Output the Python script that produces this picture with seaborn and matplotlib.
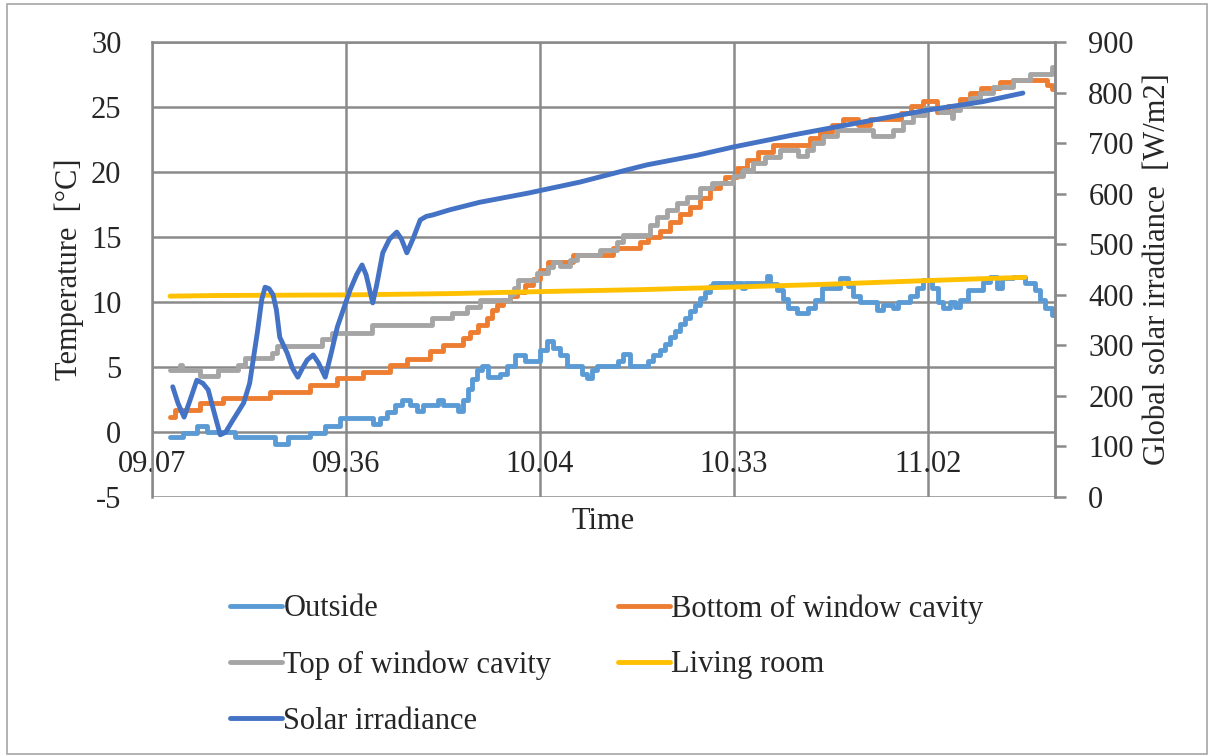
import matplotlib
matplotlib.use("Agg")
import matplotlib.pyplot as plt
from matplotlib.patches import Rectangle
import pandas as pd
import seaborn as sns

# ---------------------------------------------------------------- data
# elapsed minutes after 09:07
tick_minutes = [0, 29, 58, 87, 116]
tick_labels = ["09.07", "09.36", "10.04", "10.33", "11.02"]
x_end = 135.0

# step series: time of each change (min) and the temperature (°C) held from it
outside_t = [2.7, 4.6, 6.7, 8.2, 12.4, 18.4, 20.3, 23.6, 25.9, 28.1, 33.0, 34.1,
             35.1, 36.3, 37.4, 38.6, 39.6, 40.5, 42.8, 43.5, 45.7, 46.5, 47.2,
             47.8, 48.6, 49.3, 50.2, 52.0, 53.1, 54.3, 55.8, 58.0, 59.0, 59.9,
             61.0, 62.0, 64.3, 65.0, 65.8, 66.5, 69.7, 70.4, 71.5, 74.1, 74.9,
             75.9, 76.7, 77.4, 78.2, 78.9, 79.7, 80.4, 81.2, 81.9, 82.7, 83.4,
             83.9, 88.2, 88.6, 92.0, 92.4, 93.4, 94.3, 95.1, 96.4, 98.1, 99.1,
             100.2, 102.8, 104.0, 104.8, 105.8, 108.4, 109.3, 110.8, 111.5,
             113.3, 114.4, 115.3, 116.6, 117.5, 118.2, 119.3, 120.0, 120.8,
             122.0, 124.2, 125.3, 126.3, 127.1, 128.7, 130.5, 132.0, 132.7,
             133.5, 134.5, 135.0]
outside_v = [-0.4, -0.1, 0.5, 0.0, -0.4, -0.9, -0.4, -0.1, 0.5, 1.05, 0.6, 1.05,
             1.55, 2.1, 2.5, 2.1, 1.6, 2.1, 2.5, 2.1, 1.6, 2.5, 3.3,
             4.1, 4.8, 5.1, 4.2, 4.5, 5.1, 5.9, 5.5, 6.3, 7.0, 6.5,
             5.9, 5.1, 4.5, 4.15, 4.8, 5.1, 5.5, 6.0, 5.1, 5.5, 5.9,
             6.3, 6.8, 7.3, 7.8, 8.3, 8.8, 9.3, 9.8, 10.3, 10.8, 11.2,
             11.5, 11.1, 11.5, 12.0, 11.4, 10.9, 10.2, 9.55, 9.15, 9.55, 10.15,
             11.1, 11.85, 11.2, 10.5, 10.0, 9.4, 9.8, 9.55, 10.0,
             10.5, 11.1, 11.7, 11.1, 10.0, 9.55, 10.0, 9.6, 10.15,
             10.9, 11.55, 11.9, 11.1, 11.85, 11.9, 11.45, 10.9, 10.15,
             9.55, 9.0, 9.0]

bottom_t = [2.7, 3.4, 7.2, 10.6, 17.6, 23.6, 27.7, 31.5, 35.6, 38.1, 41.6, 43.5,
            46.5, 47.5, 48.7, 50.1, 50.8, 51.6, 52.5, 53.5, 54.6, 55.8, 57.0,
            58.0, 59.2, 62.9, 68.9, 72.9, 74.1, 75.9, 77.4, 78.9, 80.4, 81.9,
            83.4, 84.9, 85.7, 87.4, 88.9, 90.6, 92.8, 98.4, 99.9, 101.6, 103.3,
            105.5, 107.3, 112.0, 113.5, 115.3, 117.3, 119.0, 120.8, 122.3,
            124.0, 126.8, 128.7, 133.8, 134.6, 135.0]
bottom_v = [1.15, 1.7, 2.2, 2.6, 3.1, 3.6, 4.15, 4.6, 5.15, 5.65, 6.2, 6.7,
            7.2, 7.7, 8.2, 8.8, 9.4, 9.75, 10.15, 10.5, 10.8, 11.3, 11.8,
            12.45, 13.1, 13.6, 14.15, 14.6, 15.0, 15.5, 16.15, 16.8, 17.3, 18.0,
            18.75, 19.15, 19.6, 20.3, 20.9, 21.55, 22.1, 22.6, 23.1, 23.6, 24.05,
            23.6, 24.05, 24.55, 25.1, 25.5, 24.6, 25.05, 25.6, 26.1,
            26.5, 26.95, 27.1, 26.7, 26.4, 26.4]

top_t = [2.7, 4.2, 4.5, 7.2, 9.9, 12.9, 13.9, 17.9, 18.7, 25.4, 26.9, 32.9,
         41.9, 44.8, 47.1, 49.0, 53.5, 54.1, 54.7, 57.6, 59.2, 59.9, 61.0,
         62.5, 63.5, 67.0, 69.5, 70.4, 74.4, 75.5, 77.0, 78.5, 80.0, 81.9,
         83.7, 86.8, 88.3, 89.8, 91.6, 93.9, 96.6, 97.9, 98.8, 100.3, 102.4,
         107.8, 110.8, 112.3, 113.8, 115.5, 117.8, 119.6, 119.8, 120.8, 122.3,
         123.8, 125.7, 128.7, 131.2, 134.5, 135.0]
top_v = [4.75, 5.15, 4.75, 4.3, 4.75, 5.15, 5.7, 6.1, 6.6, 7.15, 7.6, 8.2,
         8.75, 9.15, 9.6, 10.15, 10.6, 11.1, 11.7, 12.2, 12.7, 13.1, 12.8,
         13.2, 13.6, 14.0, 14.6, 15.15, 15.9, 16.55, 17.1, 17.6, 18.1, 18.75,
         19.15, 19.7, 20.15, 20.7, 21.15, 21.7, 21.2, 21.7, 22.2, 22.75, 23.25,
         22.75, 23.2, 23.85, 24.4, 24.9, 24.6, 24.15, 24.75, 25.15, 25.7,
         26.1, 26.55, 27.1, 27.55, 28.1, 28.1]

living_t = [2.7, 10.0, 30.0, 45.0, 58.0, 73.0, 87.0, 100.0, 116.0, 130.5]
living_v = [10.45, 10.5, 10.55, 10.65, 10.8, 10.95, 11.15, 11.35, 11.65, 11.9]

# global solar irradiance (W/m2)
solar_t = [3.1, 3.9, 4.8, 5.7, 6.7, 7.6, 8.4, 9.4, 10.2, 11.0, 12.0, 13.7,
           14.6, 15.8, 16.4, 16.9, 17.5, 18.1, 18.6, 19.1, 20.2, 21.0, 21.8,
           22.5, 23.2, 24.1, 24.9, 25.9, 26.8, 27.7, 29.6, 30.6, 31.4, 32.0,
           33.0, 33.6, 34.5, 35.5, 36.6, 37.3, 38.1, 39.0, 40.1, 41.0, 42.0,
           44.5, 49.0, 56.2, 64.0, 71.0, 74.0, 81.5, 86.8, 92.8, 95.8, 104.3,
           115.8, 124.2, 130.2]
solar_v = [218, 185, 158, 192, 231, 225, 212, 162, 123, 128, 150, 186,
           225, 330, 390, 415, 412, 400, 370, 316, 285, 255, 237,
           255, 271, 281, 265, 237, 285, 336, 409, 440, 459, 440,
           384, 420, 483, 510, 524, 510, 483, 510, 548, 555, 558,
           568, 583, 601, 623, 647, 657, 676, 692, 708, 716, 737,
           765, 782, 799]

series = [
    ("Outside", outside_t, outside_v, "#5B9BD5", "steps-post"),
    ("Bottom of window cavity", bottom_t, bottom_v, "#ED7D31", "steps-post"),
    ("Top of window cavity", top_t, top_v, "#A5A5A5", "steps-post"),
    ("Living room", living_t, living_v, "#FFC000", "default"),
]

# ---------------------------------------------------------------- style
sns.set_style("white")
plt.rcParams["font.family"] = ["Liberation Serif", "DejaVu Serif"]
plt.rcParams["font.size"] = 22
plt.rcParams["axes.unicode_minus"] = False
grid_c = "#8A8A8A"
lw = 3.5

W, H = 1211, 756
fig = plt.figure(figsize=(W / 100, H / 100), dpi=100)
ax = fig.add_axes([152 / W, 1 - 497 / H, 903 / W, 455 / H])
ax2 = ax.twinx()

for name, t, v, c, ds in series:
    df = pd.DataFrame({"t": t, "v": v})
    sns.lineplot(data=df, x="t", y="v", ax=ax, color=c, lw=lw, label=name,
                 drawstyle=ds, estimator=None, sort=False,
                 solid_joinstyle="round", solid_capstyle="round")

sdf = pd.DataFrame({"t": solar_t, "v": solar_v})
sns.lineplot(data=sdf, x="t", y="v", ax=ax2, color="#4472C4", lw=lw,
             label="Solar irradiance", estimator=None, sort=False,
             solid_joinstyle="round", solid_capstyle="round")

# ---------------------------------------------------------------- axes
ax.set_xlim(0, x_end)
ax.set_ylim(-5, 30)
ax.set_yticks(range(-5, 31, 5))
ax.set_xticks(tick_minutes)
ax.set_xticklabels(tick_labels)
ax2.set_ylim(0, 900)
ax2.set_yticks(range(0, 901, 100))

ax.grid(True, color=grid_c, lw=1.8)
ax.set_axisbelow(True)
for s in ax.spines.values():
    s.set_color(grid_c)
    s.set_linewidth(1.8)
ax.spines["bottom"].set_position(("data", 0))
ax.spines["bottom"].set_visible(False)
ax.tick_params(axis="x", length=0, pad=13, labelsize=22)
ax.tick_params(axis="y", length=0, pad=22, labelsize=22)

for k, s in ax2.spines.items():
    s.set_visible(k == "right")
    s.set_color(grid_c)
    s.set_linewidth(1.8)
ax2.tick_params(axis="y", length=8, width=1.8, color=grid_c, pad=16,
                labelsize=22, direction="out")

ax.set_xlabel("Time", fontsize=22)
ax.xaxis.set_label_coords(0.5, -0.022)
ax.set_ylabel("Temperature  [°C]", fontsize=22)
ax.yaxis.set_label_coords(-0.075, 0.5)
ax2.set_ylabel("Global solar irradiance  [W/m2]", fontsize=22)
ax2.yaxis.set_label_coords(1.097, 0.5)

# ---------------------------------------------------------------- legend
h1, l1 = ax.get_legend_handles_labels()
h2, l2 = ax2.get_legend_handles_labels()
ax.get_legend().remove()
ax2.get_legend().remove()
hd = dict(zip(l1 + l2, h1 + h2))
order = ["Outside", "Top of window cavity", "Solar irradiance",
         "Bottom of window cavity", "Living room"]
fig.legend([hd[k] for k in order], order, ncol=2, loc="upper left",
           bbox_to_anchor=(230 / W, 1 - 594 / H), frameon=False,
           fontsize=22, handlelength=1.7, handletextpad=0.05,
           columnspacing=2.17, labelspacing=0.88, borderpad=0, borderaxespad=0)

fig.patches.append(Rectangle((7 / W, 2 / H), (1207 - 7) / W, (752 - 2) / H,
                             transform=fig.transFigure, fill=False,
                             edgecolor="#A6A6A6", lw=1.2))

fig.savefig("out.png", dpi=100)
